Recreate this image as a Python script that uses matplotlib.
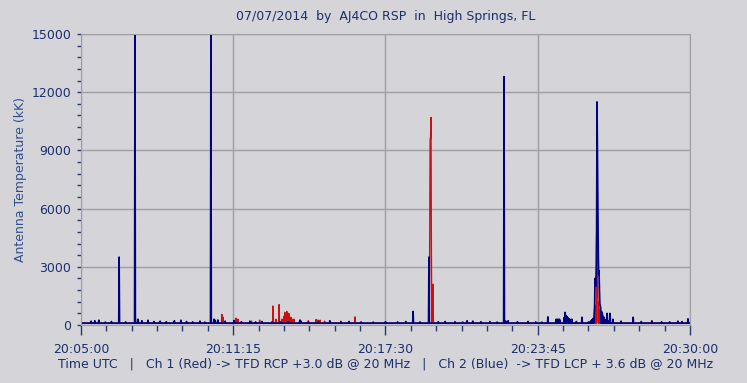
import numpy as np
import matplotlib.pyplot as plt
from matplotlib.ticker import MultipleLocator

# Seconds after 20:05:00 UTC, one sample per second
n_sec = 1501
tick_labels = ['20:05:00', '20:11:15', '20:17:30', '20:23:45', '20:30:00']

# Ch 2 (Blue) - quiet level and events (kK)
blue_base = 100
blue_t = [25, 34, 44, 60, 75, 94, 110, 133, 140, 141, 150, 165, 180, 195, 210,
          230, 246, 260, 275, 293, 305, 320, 328, 330, 337, 355, 377, 395, 416,
          430, 446, 470, 490, 510, 539, 541, 560, 585, 613, 640, 660, 690, 720,
          750, 780, 800, 818, 835, 857, 880, 897, 921, 940, 951, 965, 985, 1007,
          1025, 1042, 1046, 1052, 1075, 1101, 1120, 1135, 1150,
          1170, 1172, 1174, 1176, 1178, 1180, 1190, 1192, 1194, 1196, 1197, 1199,
          1200, 1202, 1204, 1206, 1209, 1220, 1234, 1250, 1255, 1258, 1260, 1262,
          1264, 1265, 1266, 1267, 1268, 1269, 1270, 1271, 1272, 1273, 1274, 1275,
          1276, 1277, 1278, 1279, 1280, 1282, 1284, 1286, 1288, 1290, 1293, 1296,
          1300, 1303, 1310, 1330, 1360, 1380, 1406, 1430, 1450, 1470, 1480, 1495]
blue_v = [200, 220, 250, 150, 180, 3500, 160, 16000, 300, 250, 220, 250, 180, 200, 170,
          220, 250, 180, 160, 200, 150, 16000, 300, 250, 260, 200, 230, 170, 200,
          160, 180, 150, 170, 150, 250, 220, 160, 170, 220, 150, 180, 160, 150,
          170, 160, 180, 700, 160, 3500, 170, 180, 170, 150, 220, 200, 170, 180,
          150, 12800, 200, 220, 170, 180, 160, 150, 420,
          280, 300, 290, 280, 300, 250, 380, 650, 500, 450, 420, 380,
          350, 320, 300, 260, 300, 180, 400, 160, 200, 250, 300, 350,
          600, 900, 2400, 2200, 2000, 3000, 5000, 11500, 9000, 6500, 4000, 2600,
          2800, 1800, 1100, 1000, 900, 700, 600, 450, 400, 300, 250, 600,
          200, 600, 300, 200, 400, 180, 200, 170, 160, 200, 180, 320]

# Ch 1 (Red) - quiet level and events (kK)
red_base = 90
red_t = [347, 350, 382, 385, 387, 420, 440, 473, 480, 488, 495, 500, 502, 504, 505,
         507, 509, 510, 512, 514, 517, 520, 525, 540, 560, 579, 582, 585, 589, 600,
         640, 675, 859, 860, 861, 862, 863, 865, 867,
         1266, 1268, 1270, 1271, 1272, 1273, 1275, 1278, 1282, 1286, 1290, 1406]
red_v = [550, 400, 350, 250, 300, 200, 250, 980, 300, 1050, 300, 450, 650, 500, 550,
         700, 450, 500, 600, 350, 400, 300, 300, 250, 220, 280, 250, 240, 250, 200,
         200, 420, 4400, 9600, 9600, 10700, 4000, 2000, 2100,
         800, 1000, 2500, 4200, 3000, 1600, 1200, 800, 500, 300, 200, 220]

t = np.arange(n_sec)
ch1 = np.full(n_sec, red_base, dtype=float)
ch1[red_t] = red_v
ch2 = np.full(n_sec, blue_base, dtype=float)
ch2[blue_t] = blue_v

bg = '#d4d4d9'
navy = '#1c2f6b'
fig = plt.figure(figsize=(7.47, 3.83), dpi=100, facecolor=bg)
ax = fig.add_axes([0.1084, 0.1514, 0.8153, 0.7598], facecolor=bg)

ax.plot(t, ch1, color='#cc1010', linewidth=1.0)
ax.plot(t, ch2, color='#000080', linewidth=1.2)

ax.set_xlim(0, 1500)
ax.set_ylim(0, 15000)
ax.set_xticks(np.arange(0, 1501, 375))
ax.set_xticklabels(tick_labels)
ax.xaxis.set_minor_locator(MultipleLocator(62.5))
ax.yaxis.set_major_locator(MultipleLocator(3000))
ax.yaxis.set_minor_locator(MultipleLocator(600))

ax.grid(True, which='major', color='#a0a0a0', linewidth=1.0)
for s in ax.spines.values():
    s.set_color('#a0a0a0')

ax.tick_params(axis='both', which='both', colors='#2a3a70', labelcolor=navy,
               labelsize=9, width=1)
ax.tick_params(axis='x', which='major', length=7, pad=6)
ax.tick_params(axis='x', which='minor', length=4)
ax.tick_params(axis='y', which='major', length=3, pad=4)
ax.tick_params(axis='y', which='minor', length=3)

ax.set_title('07/07/2014  by  AJ4CO RSP  in  High Springs, FL',
             fontsize=9, color=navy, pad=10)
ax.set_ylabel('Antenna Temperature (kK)', fontsize=9, color='#30508a', labelpad=3)
ax.set_xlabel('Time UTC   |   Ch 1 (Red) -> TFD RCP +3.0 dB @ 20 MHz   |   '
              'Ch 2 (Blue)  -> TFD LCP + 3.6 dB @ 20 MHz',
              fontsize=9, color=navy, labelpad=1)

plt.savefig('out.png', dpi=100, facecolor=bg)
